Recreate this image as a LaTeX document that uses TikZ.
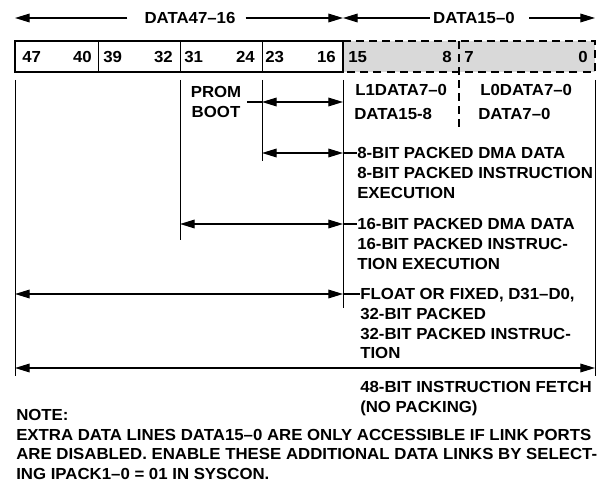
\documentclass[tikz,border=0pt]{standalone}
\usepackage{fontspec}
\setmainfont[FakeStretch=1.05]{Liberation Sans}
\usetikzlibrary{arrows.meta}
\definecolor{slotGray}{HTML}{D9D9D9}
\tikzset{
  lbl/.style={font=\bfseries\fontsize{12}{14.8}\selectfont, inner sep=0pt},
  txt/.style={lbl, align=left, anchor=north west},
  bitnum/.style={lbl, anchor=west},
  bitend/.style={lbl, anchor=east},
  boxline/.style={line width=0.9pt},
  tick/.style={line width=0.6pt},
  dashline/.style={line width=1.1pt, dash pattern=on 6pt off 3.8pt},
  lead/.style={line width=0.9pt},
  tip/.style={-{Triangle[length=11pt,width=6.5pt]}, line width=0.9pt},
  span/.style={{Triangle[length=11pt,width=6.5pt]}-{Triangle[length=11pt,width=6.5pt]}, line width=0.9pt}
}
\begin{document}
\begin{tikzpicture}[x=0.75pt, y=-0.75pt]
  \useasboundingbox (0,0) rectangle (600,481);

  \fill[slotGray] (343,41) rectangle (595,72);
  \draw[boxline] (15,41) rectangle (343,72);
  \draw[tick] (98,41) -- (98,72);
  \draw[tick] (180,41) -- (180,72);
  \draw[tick] (262,41) -- (262,72);
  \draw[dashline] (343,41) -- (595,41) -- (595,72) -- (343,72);
  \draw[dashline] (459,41) -- (459,127);

  \node[bitnum] (n47) at (22,57) {47};
  \node[bitend] (n40) at (92,57) {40};
  \node[bitnum] (n39) at (103,57) {39};
  \node[bitend] (n32) at (173,57) {32};
  \node[bitnum] (n31) at (184,57) {31};
  \node[bitend] (n24) at (255,57) {24};
  \node[bitnum] (n23) at (265,57) {23};
  \node[bitend] (n16) at (336,57) {16};
  \node[bitnum] (n15) at (348,57) {15};
  \node[bitend] (n8) at (452,57) {8};
  \node[bitnum] (n7) at (464,57) {7};
  \node[bitend] (n0) at (588,57) {0};

  \coordinate (v47) at (15,80);
  \coordinate (v31) at (180,80);
  \coordinate (v23) at (262,80);
  \coordinate (v16) at (343,80);
  \coordinate (v0) at (595,80);
  \coordinate (w47) at (15,376);
  \coordinate (w31) at (180,240);
  \coordinate (w23) at (262,161);
  \coordinate (w16) at (343,308);
  \coordinate (w0) at (595,376);
  \draw[tick] (v47) -- (w47);
  \draw[tick] (v31) -- (w31);
  \draw[tick] (v23) -- (w23);
  \draw[tick] (v16) -- (w16);
  \draw[tick] (v0) -- (w0);

  \node[lbl] (hi) at (190,18) {DATA47--16};
  \node[lbl] (lo) at (474,18) {DATA15--0};
  \draw[tip] ([xshift=-12.75pt]hi.west) -- (v47 |- hi.west);
  \draw[tip] ([xshift=7.5pt]hi.east) -- (v16 |- hi.east);
  \draw[tip] ([xshift=-2.25pt]lo.west) -- (v16 |- lo.west);
  \draw[tip] ([xshift=10.5pt]lo.east) -- (v0 |- lo.east);

  \node[lbl, align=center, outer xsep=4.5pt] (prom) at (216,102) {PROM\\BOOT};
  \draw[lead] (prom.east) -- (v23 |- prom.east);
  \draw[span] (v23 |- prom.east) -- (v16 |- prom.east);

  \node[bitnum] (l1) at (355,90) {L1DATA7--0};
  \node[bitnum] (l0) at (480,90) {L0DATA7--0};
  \node[bitnum] (d158) at (354,114) {DATA15-8};
  \node[bitnum] (d70) at (478,114) {DATA7--0};

  \coordinate (a8) at (343,153);
  \coordinate (a16) at (343,224);
  \coordinate (a32) at (343,294);
  \coordinate (a48) at (595,368);

  \node[txt] (t8) at (357,147.3) {8-BIT PACKED DMA DATA\\8-BIT PACKED INSTRUCTION\\EXECUTION};
  \node[txt] (t16) at (357,218.3) {16-BIT PACKED DMA DATA\\16-BIT PACKED INSTRUC-\\TION EXECUTION};
  \node[txt] (t32) at (360,288.3) {FLOAT OR FIXED, D31--D0,\\32-BIT PACKED\\32-BIT PACKED INSTRUC-\\TION};
  \node[txt] (t48) at (360,381.3) {48-BIT INSTRUCTION FETCH\\(NO PACKING)};

  \draw[span] (v23 |- a8) -- (a8);
  \draw[lead] (a8) -- (a8 -| t8.west);
  \draw[span] (v31 |- a16) -- (a16);
  \draw[lead] (a16) -- (a16 -| t16.west);
  \draw[span] (v47 |- a32) -- (a32);
  \draw[lead] (a32) -- (a32 -| t32.west);
  \draw[span] (v47 |- a48) -- (a48);

  \node[txt, font=\bfseries\fontsize{12}{14.6}\selectfont] (note) at (16,409.3) {NOTE:\\EXTRA DATA LINES DATA15--0 ARE ONLY ACCESSIBLE IF LINK PORTS\\ARE DISABLED. ENABLE THESE ADDITIONAL DATA LINKS BY SELECT-\\ING IPACK1--0 = 01 IN SYSCON.};
\end{tikzpicture}
\end{document}
